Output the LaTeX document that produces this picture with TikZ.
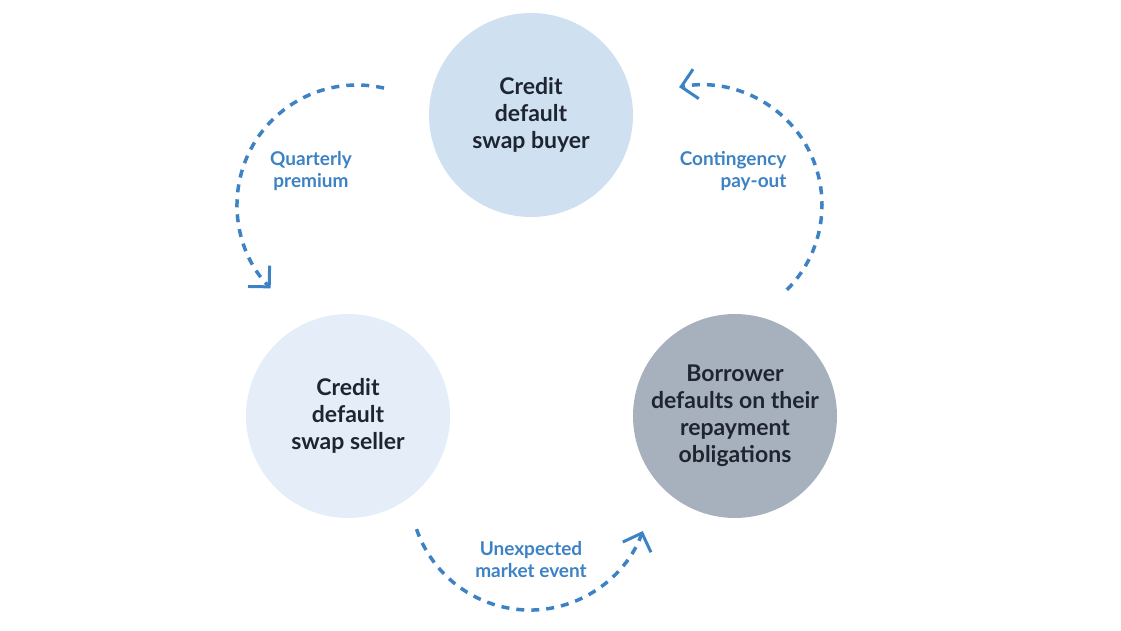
\documentclass[tikz,border=0pt]{standalone}
\usepackage{fontspec}
\setmainfont{Lato}
\usetikzlibrary{arrows.meta}
\definecolor{buyerFill}{HTML}{CFE0F1}
\definecolor{sellerFill}{HTML}{E4EDF8}
\definecolor{borrowerFill}{HTML}{A7B1BD}
\definecolor{textCol}{HTML}{1F2530}
\definecolor{flowCol}{HTML}{3C82C4}

\begin{document}
\begin{tikzpicture}[
  x=1pt, y=1pt,
  party/.style={circle, minimum size=204pt, inner sep=0pt, align=center, text=textCol,
                font=\fontsize{23}{27}\selectfont\bfseries},
  flow/.style={draw=flowCol, line width=3.5pt, dash pattern=on 8pt off 7pt,
               -{Straight Barb[length=15pt, width=30pt, line width=3pt]}},
  lbl/.style={text=flowCol, font=\fontsize{19}{22}\selectfont\bfseries},
]
\useasboundingbox (0,0) rectangle (1121,631);

% ---- Participantes ----
\node[party, fill=buyerFill]    (buyer)    at (531,516) {Credit\\default\\swap buyer};
\node[party, fill=sellerFill]   (seller)   at (348,215) {Credit\\default\\swap seller};
\node[party, fill=borrowerFill] (borrower) at (735,215) {Borrower\\defaults on their\\repayment\\obligations};

% ---- Arranques de los arcos ----
\coordinate (premiumStart) at (384,542.9);
\coordinate (payoutStart)  at (786.85,341.15);
\coordinate (eventStart)   at (416.5,101.9);

% ---- Flujos (arcos discontinuos) ----
\draw[flow] (premiumStart) arc[start angle=77,  end angle=224, radius=120pt];
\draw[flow] (payoutStart)  arc[start angle=-45, end angle=101, radius=120pt];
\draw[flow] (eventStart)   arc[start angle=199, end angle=340, radius=120pt];

% ---- Etiquetas ----
\node[lbl, align=center]             (premiumLbl) at (311,460) {Quarterly\\premium};
\node[lbl, align=right, anchor=east] (payoutLbl)  at (790,460) {Contingency\\pay-out};
\node[lbl, align=center]             (eventLbl)   at (531,71)  {Unexpected\\market event};

\end{tikzpicture}
\end{document}
